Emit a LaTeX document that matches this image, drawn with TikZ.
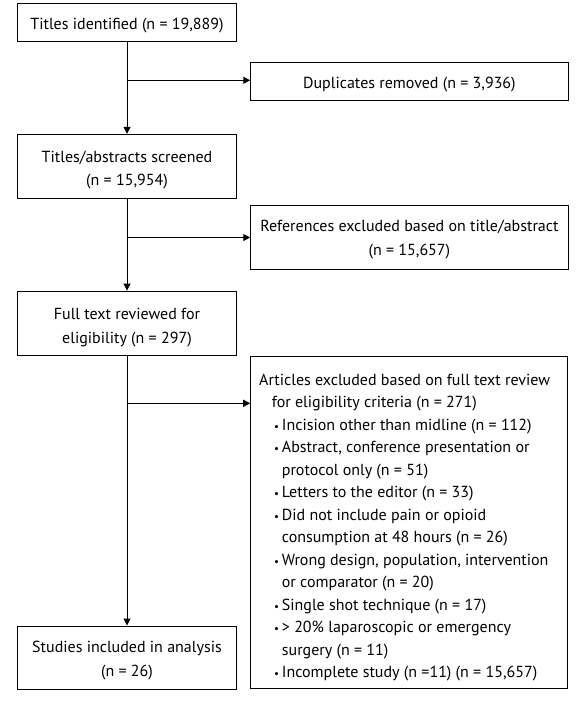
\documentclass[tikz,border=0pt]{standalone}
\usepackage{fontspec}
\setmainfont{PT Sans}
\usetikzlibrary{arrows.meta}
\newcommand{\blt}{\makebox[7.7pt][l]{\raisebox{0.3pt}{\fontsize{11}{11}\selectfont •}}}
\begin{document}
\begin{tikzpicture}[x=1pt,y=-1pt,
  every node/.style={font=\fontsize{16}{23.4}\selectfont, inner sep=0pt},
  flowbox/.style={draw, line width=1pt, anchor=center},
  leftbox/.style={flowbox, minimum width=219.4pt},
  rightbox/.style={flowbox, minimum width=317.3pt},
  txt/.style={align=center, anchor=center},
  txtb/.style={anchor=base},
  arr/.style={line width=1pt, -{Triangle[length=7pt,width=7pt]}}]
\useasboundingbox (0,0) rectangle (579,702);
% boxes
\node[leftbox, minimum height=38pt] (t1) at (127,22.3) {};
\node[rightbox, minimum height=38pt] (dup) at (409.4,81.7) {};
\node[leftbox, minimum height=64pt] (t2) at (127,166.3) {};
\node[rightbox, minimum height=63.3pt] (ref) at (409.4,237.35) {};
\node[leftbox, minimum height=64.3pt] (t3) at (127,323.2) {};
\node[rightbox, minimum width=317pt, minimum height=331.6pt] (art) at (409.2,522.5) {};
\node[leftbox, minimum height=63pt] (t4) at (127,657.5) {};
% texts
\node[txtb] (t1l) at (127,29) {Titles identified (n = 19,889)};
\node[txtb] (dupl) at (409.4,88.3) {Duplicates removed (n = 3,936)};
\node[txt] (t2l) at (127,169.8) {Titles/abstracts screened\\(n = 15,954)};
\node[txt] (refl) at (409.4,239.5) {References excluded based on title/abstract\\(n = 15,657)};
\node[txt] (t3l) at (127,327.5) {Full text reviewed for\\eligibility (n = 297)};
\node[txt] (t4l) at (127,660.5) {Studies included in analysis\\(n = 26)};
\node[anchor=north west, align=left, font=\fontsize{16}{22.5}\selectfont] (arttext) at (259,373.8) {%
Articles excluded based on full text review\\
\hspace*{12.7pt}for eligibility criteria (n = 271)\\
\hspace*{15pt}\blt Incision other than midline (n = 112)\\
\hspace*{15pt}\blt Abstract, conference presentation or\\
\hspace*{22.7pt}protocol only (n = 51)\\
\hspace*{15pt}\blt Letters to the editor (n = 33)\\
\hspace*{15pt}\blt Did not include pain or opioid\\
\hspace*{22.7pt}consumption at 48 hours (n = 26)\\
\hspace*{15pt}\blt Wrong design, population, intervention\\
\hspace*{22.7pt}or comparator (n = 20)\\
\hspace*{15pt}\blt Single shot technique (n = 17)\\
\hspace*{15pt}\blt > 20\% laparoscopic or emergency\\
\hspace*{22.7pt}surgery (n = 11)\\
\hspace*{15pt}\blt Incomplete study (n =11) (n = 15,657)};
% connectors
\coordinate (b1) at (127,80.3);
\coordinate (b2) at (127,237.5);
\coordinate (b3) at (127,403.3);
\draw[arr] (t1.south) -- (t2.north);
\draw[arr] (t2.south) -- (t3.north);
\draw[arr] (t3.south) -- (t4.north);
\draw[arr] (b1) -- (b1 -| dup.west);
\draw[arr] (b2) -- (b2 -| ref.west);
\draw[arr] (b3) -- (b3 -| art.west);
\end{tikzpicture}
\end{document}
